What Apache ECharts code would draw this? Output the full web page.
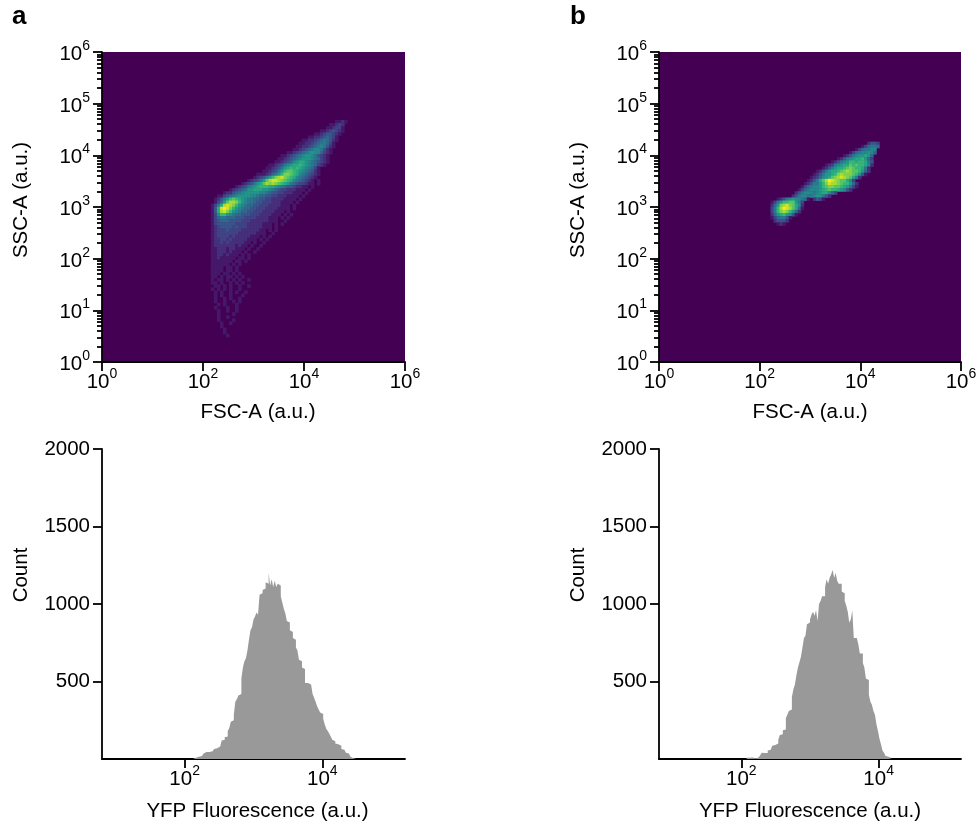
<!DOCTYPE html>
<html>
<head>
<meta charset="utf-8">
<style>
html, body { margin: 0; padding: 0; background: #fff; }
#chart { width: 980px; height: 823px; }
</style>
<script src="https://cdn.jsdelivr.net/npm/echarts@6/dist/echarts.min.js"></script>
</head>
<body>
<div id="chart"></div>
<script>
// density levels (hex, 0-f), one line per row from top, [first column, levels]
var firstRowA = 22;
var densityA = [
    [76, '01121'], [75, '11232'], [74, '112331'], [72, '11234321'], [70, '112344321'],
    [68, '1122345431'], [66, '112234565421'], [65, '112234566531'], [64, '1122345676421'],
    [63, '1123456776421'], [61, '112345678775321'], [59, '1123456788764321'],
    [58, '11234567888765321'], [57, '112345789987654321'], [55, '1123467899a98765321'],
    [54, '11234689a9a9876531'], [53, '1123468abba98765421'], [51, '11123568accba97654321'],
    [50, '123468acdecba97654321'], [48, '123468bdeedcba9765432101'],
    [46, '1234689bdcdcba986543321101'], [44, '12346789aaa998765443221101'],
    [42, '123456889998876543322211101'], [40, '1224567888887765443322211101'],
    [38, '11345678888776554433222111101'], [37, '12468aba987665544332222111101'],
    [37, '1358bddca8766544333222111101'], [36, '1369dedca8765544333222211101'],
    [36, '149efeca87655443332222111101'], [36, '149deca8765544333222211101'],
    [36, '137aa8765544433322221110101'], [36, '13566555444333322221110101'],
    [36, '1345554444333222222111001'], [36, '134444443333222221110101'],
    [36, '12344443433322222111010'], [36, '1233343333222222110101'],
    [36, '123333333222222111001'], [36, '12333323222221110101'],
    [36, '1223323222221110101'], [36, '122323222221101001'],
    [36, '12222222121101001'], [36, '1122212211101001'],
    [36, '112221211101001'], [36, '1122121110101'], [36, '1121111101101'],
    [36, '111111101101'], [36, '11111101010'], [36, '1111011010'], [36, '111101101'],
    [36, '1110110101'], [36, '110101101010'], [36, '1011010101001'],
    [36, '1101001010100'], [36, '0110101001001'], [36, '101010100100'],
    [37, '10100101001'], [36, '0101001000100'], [37, '1001010010'], [37, '100100101'],
    [37, '0101000100'], [37, '1000100100'], [37, '01001001'], [38, '10000100'],
    [37, '0100100'], [38, '100001'], [39, '1001'], [38, '0100'], [40, '1'], [39, '01'], [41, '1']
];
var firstRowB = 29;
var densityB = [
    [69, '2443'], [67, '135665'], [65, '1356677'], [63, '135677875'], [61, '1246788985'],
    [59, '12467899a853'], [57, '124678aa9aa964'], [55, '12367899babaa972'],
    [54, '1246899abcbaa962'], [52, '1246899abcdcbba852'], [51, '1246889acdcccba841'],
    [50, '1235789bcdedcb962'], [49, '12469bdfedcbb973'], [48, '124668aceddcbaa852'],
    [47, '1356778abccbba98631'], [46, '135677789abaa98742'], [45, '24677767899753'],
    [44, '2467766788642'], [39, '1246787765102431'], [37, '1368aabb863'],
    [37, '258cdecb972'], [37, '36adfedb951'], [37, '36acdca852'], [37, '2589a8741'],
    [37, '1356641'], [38, '24442'], [39, '121']
];

// YFP counts per histogram bin, starting at bin histStart
var histStart = 58;
var countsA = [
    0, 0, 10, 8, 10, 15, 25, 20, 30, 35, 45, 40, 45, 45, 50, 50, 65, 70, 75, 80,
    90, 120, 125, 140, 145, 180, 200, 240, 250, 285, 370, 385, 410, 420, 520, 590, 630, 650, 700, 770,
    830, 850, 900, 920, 945, 930, 1060, 1070, 1090, 1100, 1140, 1130, 1200, 1120, 1160, 1110, 1150, 1110, 1130, 1120,
    1050, 1010, 970, 940, 890, 880, 830, 820, 780, 770, 720, 700, 640, 630, 590, 580, 490, 490, 480, 480,
    470, 420, 395, 370, 340, 320, 300, 290, 260, 225, 195, 180, 165, 145, 125, 115, 100, 95, 100, 85,
    65, 60, 50, 40, 35, 25, 15, 5, 8, 0, 5, 5, 0
];
var countsB = [
    8, 8, 10, 10, 10, 5, 10, 10, 15, 25, 40, 38, 40, 38, 55, 60, 70, 85, 90, 92,
    100, 125, 155, 160, 185, 190, 265, 285, 310, 320, 400, 450, 480, 540, 590, 625, 660, 720, 780, 795,
    870, 880, 900, 930, 950, 925, 960, 890, 1000, 1020, 1050, 1050, 1110, 1160, 1130, 1170, 1190, 1220, 1170, 1200,
    1150, 1130, 1130, 1080, 1070, 1020, 990, 950, 880, 900, 960, 780, 780, 770, 740, 680, 680, 620, 590, 520,
    510, 415, 370, 350, 310, 285, 225, 180, 130, 95, 55, 40, 20, 15, 10, 5, 0
];

var heatBins = 100;
var heatExponents = 6;
var histLow = 0.8;
var histHigh = 5.2;
var histBinWidth = 0.022;
var countTicks = [500, 1000, 1500, 2000];
var fluorTicks = [2, 4];

var viridis = ['#440154', '#482878', '#3e4a89', '#31688e', '#26828e', '#1f9e89', '#35b779', '#6ece58', '#b5de2b', '#fde725'];
var fontName = '"Liberation Sans", Arial, sans-serif';

function tickLabel(value) {
    return '{b|10}{s|' + value + '}';
}
var labelRich = {
    b: { fontSize: 20.5, fontFamily: fontName, color: '#000', lineHeight: 26, verticalAlign: 'bottom' },
    s: { fontSize: 14, fontFamily: fontName, color: '#000', lineHeight: 26, verticalAlign: 'top' }
};

// log-spaced minor tick positions between the decades of the y axis
var minorTicks = [];
for (var d = 0; d < heatExponents; d++) {
    for (var m = 2; m < 10; m++) {
        minorTicks.push(d + Math.log10(m));
    }
}

function heatCells(rows, firstRow) {
    var cells = [];
    rows.forEach(function (row, r) {
        for (var i = 0; i < row[1].length; i++) {
            var level = parseInt(row[1].charAt(i), 16);
            if (level > 0) {
                cells.push([row[0] + i, heatBins - 1 - (firstRow + r), level]);
            }
        }
    });
    return cells;
}

var binNames = [];
for (var b = 0; b < heatBins; b++) {
    binNames.push(String(b));
}

var lineStyle = { color: '#000', width: 1.8 };
var nameStyle = { fontSize: 20.5, fontFamily: fontName, color: '#000' };
var letterStyle = { fontSize: 26, fontWeight: 'bold', fontFamily: fontName, color: '#000' };

var option = {
    animation: false,
    backgroundColor: '#fff',
    title: [
        { text: 'a', left: 12, top: 4, padding: 0, textStyle: letterStyle },
        { text: 'b', left: 570, top: 4, padding: 0, textStyle: letterStyle }
    ],
    visualMap: {
        show: false,
        type: 'continuous',
        min: 0,
        max: 15,
        seriesIndex: [0, 1],
        inRange: { color: viridis }
    },
    grid: [
        { left: 102, top: 52, width: 303, height: 310, show: true, backgroundColor: viridis[0], borderWidth: 0, outerBoundsMode: 'none' },
        { left: 659, top: 52, width: 302, height: 310, show: true, backgroundColor: viridis[0], borderWidth: 0, outerBoundsMode: 'none' },
        { left: 102, top: 449, width: 303, height: 310, outerBoundsMode: 'none' },
        { left: 659, top: 449, width: 302, height: 310, outerBoundsMode: 'none' }
    ],
    xAxis: [],
    yAxis: [],
    series: []
};

// scatter panel: hidden category axes carry the cells, value axes carry the log ticks
function addHeatPanel(g, rows, firstRow, namePad) {
    var xCat = option.xAxis.length;
    var yCat = option.yAxis.length;
    option.xAxis.push({ type: 'category', gridIndex: g, data: binNames, show: false, position: 'bottom' });
    option.yAxis.push({ type: 'category', gridIndex: g, data: binNames, show: false, position: 'left' });
    option.xAxis.push({
        type: 'value', gridIndex: g, position: 'bottom', min: 0, max: heatExponents, interval: 2,
        axisLine: { onZero: false, lineStyle: lineStyle },
        axisTick: { length: 9, lineStyle: lineStyle },
        axisLabel: { formatter: tickLabel, rich: labelRich, margin: 5, hideOverlap: false },
        splitLine: { show: false },
        name: 'FSC-A (a.u.)', nameLocation: 'middle', nameGap: 40,
        nameTextStyle: Object.assign({ padding: [0, 0, 0, namePad.x] }, nameStyle)
    });
    option.yAxis.push({
        type: 'value', gridIndex: g, position: 'left', min: 0, max: heatExponents, interval: 1,
        axisLine: { onZero: false, lineStyle: lineStyle },
        axisTick: { length: 9, lineStyle: lineStyle },
        axisLabel: { formatter: tickLabel, rich: labelRich, margin: 12 },
        splitLine: { show: false },
        name: 'SSC-A (a.u.)', nameLocation: 'middle', nameGap: 70,
        nameTextStyle: Object.assign({ padding: [0, 0, 0, 14] }, nameStyle)
    });
    option.yAxis.push({
        type: 'value', gridIndex: g, position: 'left', min: 0, max: heatExponents,
        axisLine: { show: false },
        axisTick: { length: 5, lineStyle: lineStyle, customValues: minorTicks },
        axisLabel: { show: false },
        splitLine: { show: false }
    });
    option.series.push({
        type: 'heatmap',
        xAxisIndex: xCat,
        yAxisIndex: yCat,
        data: heatCells(rows, firstRow),
        progressive: 0
    });
}

function addHistPanel(g, counts, namePad) {
    var xi = option.xAxis.length;
    var yi = option.yAxis.length;
    option.xAxis.push({
        type: 'value', gridIndex: g, position: 'bottom', min: histLow, max: histHigh,
        axisLine: { onZero: false, lineStyle: lineStyle },
        axisTick: { length: 9, lineStyle: lineStyle, customValues: fluorTicks },
        axisLabel: { customValues: fluorTicks, formatter: tickLabel, rich: labelRich, margin: 5 },
        splitLine: { show: false },
        name: 'YFP Fluorescence (a.u.)', nameLocation: 'middle', nameGap: 42,
        nameTextStyle: Object.assign({ padding: [0, 0, 0, namePad] }, nameStyle)
    });
    option.yAxis.push({
        type: 'value', gridIndex: g, position: 'left', min: 0, max: 2000,
        axisLine: { onZero: false, lineStyle: lineStyle },
        axisTick: { length: 9, lineStyle: lineStyle, customValues: countTicks },
        axisLabel: { customValues: countTicks, formatter: function (v) { return String(v); }, fontSize: 20.5, fontFamily: fontName, color: '#000', margin: 12 },
        splitLine: { show: false },
        name: 'Count', nameLocation: 'middle', nameGap: 70,
        nameTextStyle: Object.assign({ padding: [0, 0, 0, 58] }, nameStyle)
    });
    option.series.push({
        type: 'line',
        xAxisIndex: xi,
        yAxisIndex: yi,
        step: 'end',
        symbol: 'none',
        lineStyle: { width: 0 },
        areaStyle: { color: '#999999', opacity: 1 },
        z: 1,
        data: counts.map(function (c, i) {
            return [histLow + histBinWidth * (histStart + i), c];
        })
    });
}

addHeatPanel(0, densityA, firstRowA, { x: 9 });
addHeatPanel(1, densityB, firstRowB, { x: 0 });
addHistPanel(2, countsA, 8);
addHistPanel(3, countsB, 0);

var myChart = echarts.init(document.getElementById('chart'), null, { renderer: 'canvas' });
myChart.setOption(option);
</script>
</body>
</html>
